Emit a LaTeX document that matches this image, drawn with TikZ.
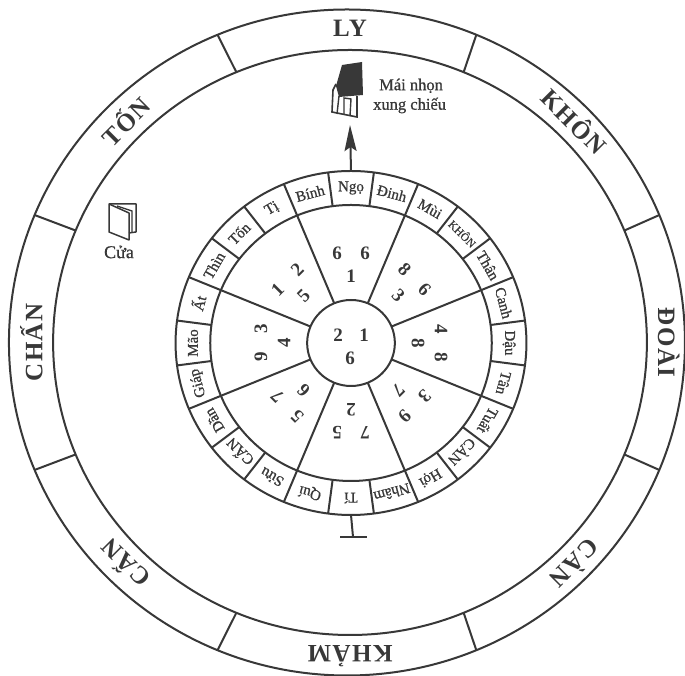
\documentclass[tikz,border=0pt]{standalone}
\usepackage{fontspec}
\setmainfont{Liberation Serif}
\newfontfamily\cellfont[FakeBold=0.8]{Liberation Serif}
\newfontfamily\dirfont[LetterSpace=6]{Liberation Serif Bold}
\usepackage{xcolor}
\usetikzlibrary{arrows.meta,calc}
\definecolor{ink}{gray}{0.22}
\newcommand{\fsz}[1]{\fontsize{#1}{#1}\selectfont}

\begin{document}
\begin{tikzpicture}[x=1pt,y=1pt,>=Stealth,
  line/.style={draw=ink,line width=2pt},
  cell/.style={text=ink,inner sep=0pt,font=\cellfont\fsz{15}},
  dirlab/.style={text=ink,inner sep=0pt,font=\dirfont\fsz{25}},
  digit/.style={text=ink,inner sep=0pt,font=\fsz{19}\bfseries},
  lab/.style={text=ink,inner sep=0pt,font=\cellfont\fsz{16.5},align=left}]
\useasboundingbox (0,0) rectangle (685,676);
% outer wheel
\begin{scope}[shift={(350,333.5)},xscale=1.015]
\draw[line] (-3,0) circle (333);
\draw[line] (0,0) circle (292.5);
\foreach \a in {22.5,67.5,...,360}
  \draw[line] (\a:292.5) -- ($(-3,0)+(\a:333)$);
\foreach \lab/\rot [count=\i] in {LY/0,KHÔN/-45,ĐOÀI/-90,CÀN/-135,KHẢM/180,CẤN/135,CHẤN/90,TỐN/45}
  \node[dirlab,rotate=\rot] (dir\i) at (90+\rot:314) {\lab};
\end{scope}
% compass ring
\begin{scope}[shift={(351,333)},xscale=1.02]
\draw[line] (0,0) circle (172);
\draw[line] (0,0) circle (138);
\draw[line] (0,0) circle (43);
\foreach \a in {7.5,22.5,...,360}
  \draw[line] (\a:138) -- (\a:172);
\foreach \a in {22.5,67.5,...,360}
  \draw[line] (\a:43) -- (\a:138);
\foreach \lab [count=\i from 0] in {Ngọ,Đinh,Mùi,{\fsz{11.5}KHÔN},Thân,Canh,Dậu,Tân,Tuất,CÀN,Hợi,Nhâm,Tí,Quí,Sửu,CẤN,Dần,Giáp,Mão,Ất,Thìn,Tốn,Tị,Bính}
  \node[cell,rotate=-15*\i] (cell\i) at (90-15*\i:155) {\lab};
\coordinate (ringN) at (90:172);
\coordinate (ringS) at (-90:172);
\end{scope}
% numbers
\node[digit] (hubA) at (338,341) {2};
\node[digit] (hubB) at (364,341) {1};
\node[digit] (hubC) at (350,318) {6};
\foreach \rot/\da/\db/\dc in {0/6/6/1,-45/8/6/3,-90/4/8/8,-135/3/9/7,180/7/5/2,135/5/7/6,90/9/3/4,45/1/2/5}{
  \begin{scope}[shift={(351,333)},rotate=\rot,transform shape]
  \node[digit] (a\rot) at (-14,90) {\da};
  \node[digit] (b\rot) at (14,90) {\db};
  \node[digit] (c\rot) at (0,67) {\dc};
  \end{scope}
}
% arrow and bar
\coordinate (tipN) at (350,551);
\draw[line,-{Stealth[length=26pt,width=12pt,inset=4pt]}] (ringN) -- (tipN);
\coordinate (barS) at (353,139);
\draw[line] (ringS) -- (barS);
\draw[draw=ink,line width=2.6pt] ($(barS)+(-13,0)$) -- ($(barS)+(14,0)$);
% house
\fill[ink] (342,611) -- (362,614) -- (363,581) -- (339,579) -- (336,590) -- cycle;
\draw[line,line width=1.6pt] (336,592) -- (333,586) -- (332,564) -- (357,559) -- (357,580);
\draw[line,line width=1.4pt] (339,580) -- (337,562);
\draw[line,line width=1.4pt] (344,561) -- (344,578) -- (351,577) -- (350,560);
\node[lab,anchor=west] (roof) at (373,580) {\hspace*{6pt}Mái nhọn\\[3pt]xung chiếu};
% door
\draw[draw=ink,line width=1.5pt,line join=round] (109,472) -- (136,472) -- (136,444) -- (129,443);
\draw[draw=ink,line width=1.5pt,line join=round] (109,472) -- (129,463) -- (129,436) -- (109,444) -- cycle;
\draw[draw=ink,line width=1.3pt] (117,470) -- (132,465) -- (132,444);
\node[lab,font=\cellfont\fsz{18}] (door) at (119,424) {Cửa};
\end{tikzpicture}
\end{document}
